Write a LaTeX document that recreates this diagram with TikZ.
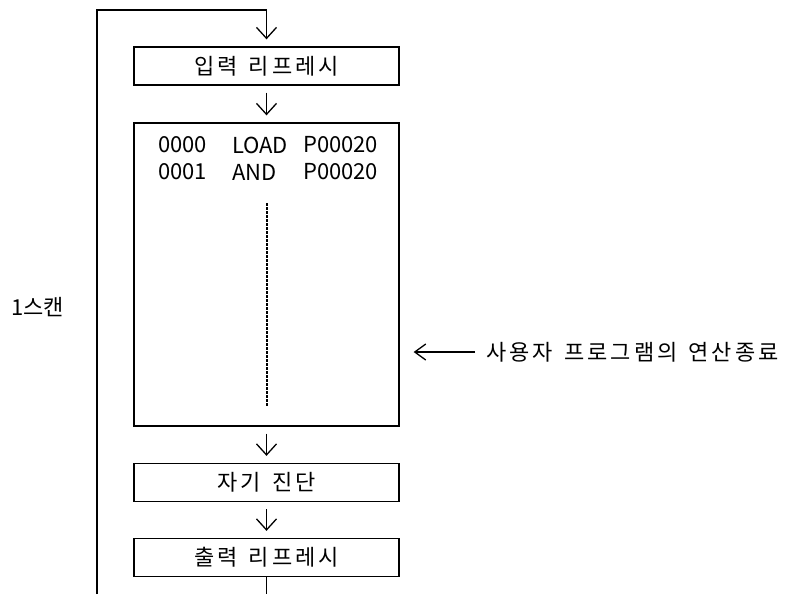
\documentclass[tikz,border=0pt]{standalone}
\usepackage{fontspec}
\setmainfont{Noto Sans CJK KR}
\newfontfamily\krsp[LetterSpace=14]{Noto Sans CJK KR}
\usetikzlibrary{arrows.meta}
\begin{document}
\begin{tikzpicture}[x=1pt,y=-1pt,
  font=\fontsize{22pt}{26pt}\selectfont,
  kr/.style={font=\fontsize{22pt}{26pt}\krsp},
  boxst/.style={draw,line width=1.3pt,minimum width=265pt,minimum height=38pt,inner sep=0pt,kr},
  conn/.style={line width=1.3pt,-{Straight Barb[length=11pt,width=20pt,line width=1.3pt]},shorten >=7pt,shorten <=7pt},
  plain/.style={line width=1.3pt},
  code/.style={anchor=west,inner sep=0pt}]
\useasboundingbox (0,0) rectangle (799,594);
\newcommand{\gp}{\hspace*{11pt}}
\node[boxst] (inp) at (266.5,66) {입력\gp{}리프레시};
\node[draw,line width=1.3pt,minimum width=265pt,minimum height=303pt,inner sep=0pt] (prog) at (266.5,274.5) {};
\node[boxst] (diag) at (266.5,482.5) {자기\gp{}진단};
\node[boxst] (outp) at (266.5,557.5) {출력\gp{}리프레시};
% code lines
\node[code] (a1) at (158,145) {0000};
\node[code] (a2) at (232,145) {LOAD};
\node[code] (a3) at (303,145) {P00020};
\node[code] (b1) at (158,172) {0001};
\node[code] (b2) at (232,172) {AND};
\node[code] (b3) at (303,172) {P00020};
\coordinate (dtop) at (267,203);
\coordinate (dbot) at (267,407);
\draw[line width=1.5pt,dash pattern=on 2.5pt off 1.5pt] (dtop) -- (dbot);
% connectors
\draw[conn] (inp) -- (prog);
\draw[conn] (prog) -- (diag);
\draw[conn] (diag) -- (outp);
\coordinate (bend) at (97,594);
\coordinate (lt) at (97,10);
\coordinate (cutb) at (266.5,594);
\draw[plain] (outp.south) -- (cutb);
\draw[line width=1.3pt,-{Straight Barb[length=11pt,width=20pt,line width=1.3pt]},shorten >=7pt] (bend) -- (lt) -| (inp.north);
% labels
\node[anchor=east,inner sep=0pt] (scan) at (64,307) {1스캔};
\node[anchor=west,inner sep=0pt,kr] (note) at (486,352) {사용자\gp{}프로그램의\gp{}연산종료};
\draw[line width=1.3pt,-{Straight Barb[length=11pt,width=16pt,line width=1.3pt]},shorten <=11pt,shorten >=14pt] (note.west) -- (prog.east |- note.west);
\end{tikzpicture}
\end{document}
